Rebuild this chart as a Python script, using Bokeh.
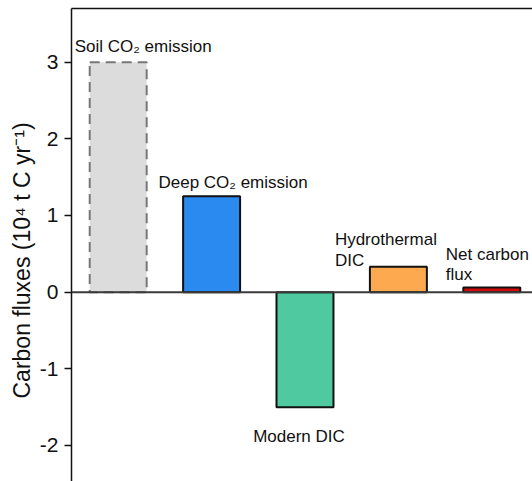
from bokeh.plotting import figure
from bokeh.models import (ColumnDataSource, Range1d, FixedTicker, LinearAxis, Span,
                          Title, CDSView, IndexFilter)
from bokeh.core.properties import value
from bokeh.embed import file_html
from bokeh.resources import INLINE

# ---- data ----
categories = ["Soil CO₂ emission", "Deep CO₂ emission", "Modern DIC",
              "Hydrothermal DIC", "Net carbon flux"]
fluxes = [3.0, 1.25, -1.50, 0.33, 0.06]
y_ticks = [-2, -1, 0, 1, 2, 3]
y_tick_labels = {-2: "-2", -1: "-1", 0: "0", 1: "1", 2: "2", 3: "3"}

# label lines (text, bar index)
label_lines = ["Soil CO₂ emission", "Deep CO₂ emission", "Modern DIC",
               "Hydrothermal", "DIC", "Net carbon", "flux"]
label_bar = [0, 1, 2, 3, 3, 4, 4]

# ---- styles ----
fill_colors = ["#dcdcdc", "#2a8af0", "#4fc9a0", "#fca950", "#d40a0a"]
line_colors = ["#777777", "#111111", "#111111", "#111111", "#111111"]
FONT = "Liberation Sans"

idx = list(range(len(categories)))
src = ColumnDataSource(dict(x=idx, top=fluxes, cat=categories,
                            fill=fill_colors, line=line_colors))

p = figure(width=532, height=481, output_backend="svg", toolbar_location=None,
           x_range=Range1d(-0.5, 4.436), y_range=Range1d(-2.47, 3.70),
           min_border_left=71, min_border_right=0, min_border_top=8,
           min_border_bottom=0)
p.outline_line_color = None
p.xgrid.visible = False
p.ygrid.visible = False
p.xaxis.visible = False

ya = p.yaxis[0]
ya.ticker = FixedTicker(ticks=y_ticks)
ya.major_label_overrides = y_tick_labels
ya.major_label_text_font = FONT
ya.major_label_text_font_size = "21px"
ya.major_label_text_color = "#111111"
ya.major_tick_out = 7
ya.major_tick_in = 0
ya.minor_tick_out = 0
ya.minor_tick_in = 0
ya.major_label_standoff = 6
ya.axis_line_width = 1.5
ya.major_tick_line_width = 1.5
ya.axis_line_color = "#111111"
ya.major_tick_line_color = "#111111"

top_axis = LinearAxis(ticker=FixedTicker(ticks=[]), major_label_text_font_size="0px",
                      major_tick_out=0, major_tick_in=0, minor_tick_out=0,
                      minor_tick_in=0, major_label_standoff=0,
                      axis_line_width=1.5, axis_line_color="#111111")
p.add_layout(top_axis, "above")

# y axis title
p.add_layout(Title(text="Carbon fluxes (10⁴ t C yr⁻¹)", align="left", offset=83,
                   standoff=3, text_font=FONT, text_font_size="23px",
                   text_font_style="normal", text_color="#111111"), "left")

# bars
p.vbar(x="x", top="top", bottom=0, width=0.61, source=src,
       view=CDSView(filter=IndexFilter([0])),
       fill_color="fill", line_color="line", line_width=2, line_dash="10 6")
p.vbar(x="x", top="top", bottom=0, width=0.61, source=src,
       view=CDSView(filter=IndexFilter([1, 2, 3, 4])),
       fill_color="fill", line_color="line", line_width=2)

p.add_layout(Span(location=0, dimension="width", line_color="#3a3a3a", line_width=2))

# bar labels
lab_x = [idx[b] for b in label_bar]
lab_y = [fluxes[b] for b in label_bar]
x_off = [25, 21.5, -6, -63.5, -63.5, -46, -46]
y_off = [-16, -14, 29, -27, -6, -33, -13]
align = ["center", "center", "center", "left", "left", "left", "left"]
lsrc = ColumnDataSource(dict(x=lab_x, y=lab_y, t=label_lines, xo=x_off, yo=y_off, al=align))
p.text(x="x", y="y", text="t", x_offset="xo", y_offset="yo", text_align="al",
       text_baseline="alphabetic", source=lsrc, text_font=value(FONT),
       text_font_size="17px", text_color="#111111")

open("out.html", "w").write(file_html(p, INLINE))
